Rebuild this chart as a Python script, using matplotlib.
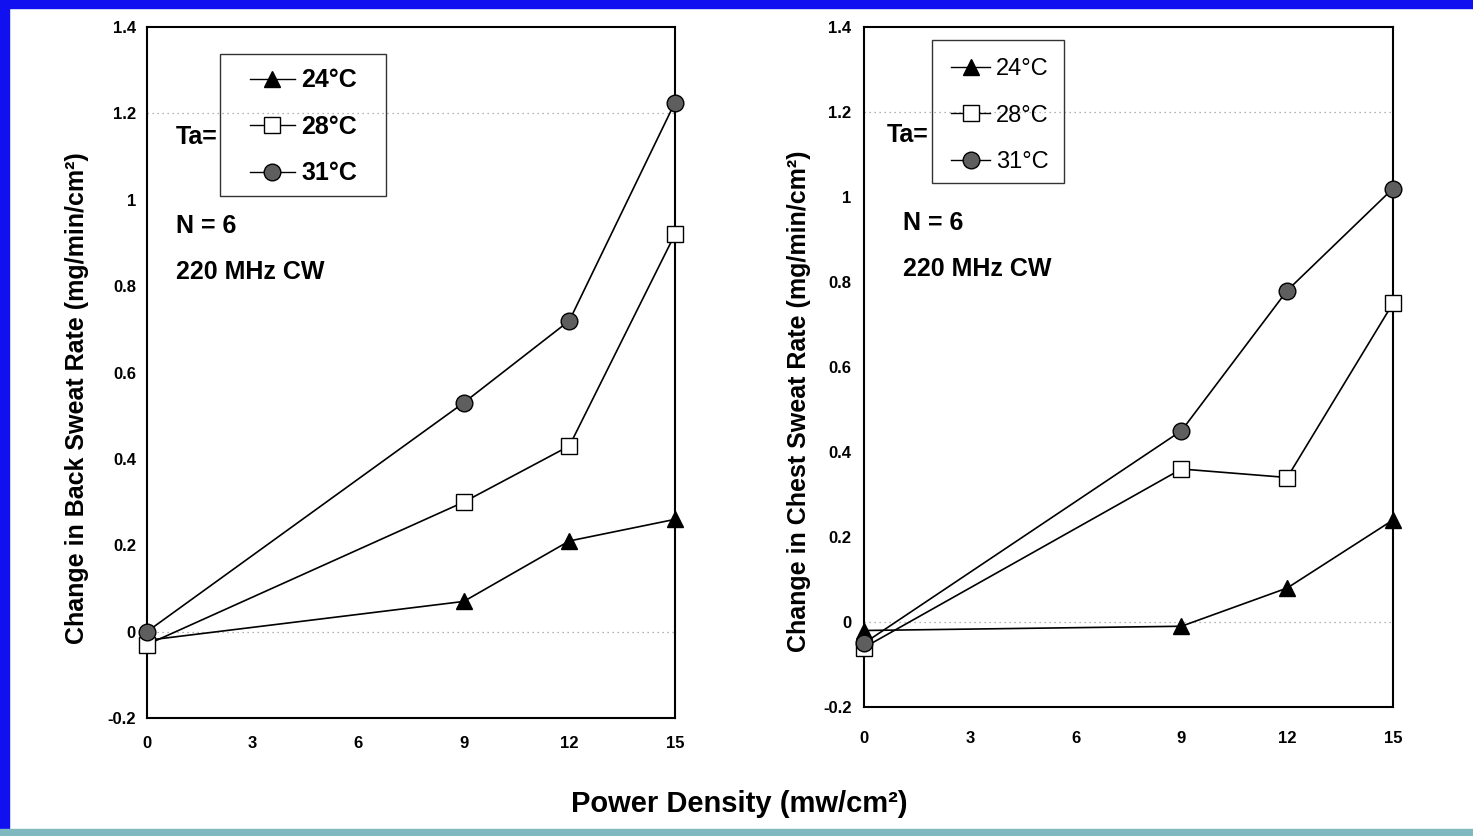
import matplotlib
matplotlib.use("Agg")
import matplotlib.pyplot as plt
import matplotlib.patches as mpatches
from matplotlib.lines import Line2D
from matplotlib import font_manager

plt.rcParams['font.family'] = ['Liberation Sans', 'DejaVu Sans']

# Data
power = [0, 9, 12, 15]
temps = ['24°C', '28°C', '31°C']

back_24 = [-0.02, 0.07, 0.21, 0.26]
back_28 = [-0.03, 0.30, 0.43, 0.92]
back_31 = [0.00, 0.53, 0.72, 1.225]

chest_24 = [-0.02, -0.01, 0.08, 0.24]
chest_28 = [-0.06, 0.36, 0.34, 0.75]
chest_31 = [-0.05, 0.45, 0.78, 1.02]

x_ticks = [0, 3, 6, 9, 12, 15]
y_ticks = [-0.2, 0, 0.2, 0.4, 0.6, 0.8, 1, 1.2, 1.4]
y_tick_labels = ['-0.2', '0', '0.2', '0.4', '0.6', '0.8', '1', '1.2', '1.4']

styles = [
    dict(marker='^', markersize=12, markerfacecolor='black', markeredgecolor='black'),
    dict(marker='s', markersize=12, markerfacecolor='white', markeredgecolor='black'),
    dict(marker='o', markersize=12, markerfacecolor='#5e5e5e', markeredgecolor='black'),
]

# condensed face for the right-hand panel, if available
installed = {f.name for f in font_manager.fontManager.ttflist}
narrow = ['Liberation Sans Narrow', 'Liberation Sans'] if 'Liberation Sans Narrow' in installed \
    else ['Liberation Sans']

fig = plt.figure(figsize=(14.73, 8.36), dpi=100)
fig.patch.set_facecolor('white')

# scanned-slide border
fig.patches.append(mpatches.Rectangle((0, 0), 0.006, 1, transform=fig.transFigure,
                                      color='#1010f0', zorder=0))
fig.patches.append(mpatches.Rectangle((0, 0.99), 1, 0.01, transform=fig.transFigure,
                                      color='#1010f0', zorder=0))
fig.patches.append(mpatches.Rectangle((0, 0), 1, 0.008, transform=fig.transFigure,
                                      color='#80b8c0', zorder=0))

ax1 = fig.add_axes([0.0998, 0.1411, 0.3584, 0.8266])
ax2 = fig.add_axes([0.5866, 0.1543, 0.3591, 0.8134])


def draw_panel(ax, series, ylabel, ylabel_y, ylabel_pad, box, leg_anchor, leg_font,
               leg_space, handle_len, ta_pos, note_x, note_y, tick_family, xpad, ypad):
    for ys, st in zip(series, styles):
        ax.plot(power, ys, color='black', linewidth=1.2, clip_on=False, zorder=3, **st)
    ax.axhline(1.2, color='#9a9a9a', linestyle=(0, (1, 3)), linewidth=0.9, zorder=1)
    ax.axhline(0, color='#9a9a9a', linestyle=(0, (1, 3)), linewidth=0.9, zorder=1)
    ax.set_xlim(0, 15)
    ax.set_ylim(-0.2, 1.4)
    ax.set_xticks(x_ticks)
    ax.set_yticks(y_ticks)
    ax.set_yticklabels(y_tick_labels)
    ax.tick_params(axis='both', length=0, labelsize=12)
    ax.tick_params(axis='x', pad=xpad)
    ax.tick_params(axis='y', pad=ypad)
    for lab in ax.get_xticklabels() + ax.get_yticklabels():
        lab.set_fontweight('bold')
        lab.set_family(tick_family)
    for sp in ax.spines.values():
        sp.set_linewidth(1.5)
        sp.set_color('black')
    ax.set_ylabel(ylabel, fontsize=18, fontweight='bold', labelpad=ylabel_pad, y=ylabel_y)

    # legend frame drawn separately so padding can match the original
    ax.add_patch(mpatches.Rectangle((box[0], box[1]), box[2], box[3], transform=ax.transAxes,
                                    fill=False, edgecolor='#333333', linewidth=1.0, zorder=4))
    handles = [Line2D([], [], color='black', linewidth=1.0, **st) for st in styles]
    ax.legend(handles, temps, loc='upper left', bbox_to_anchor=leg_anchor,
              borderaxespad=0, borderpad=0, frameon=False,
              handlelength=handle_len, handletextpad=0.25, labelspacing=leg_space,
              prop=leg_font)
    ax.text(ta_pos[0], ta_pos[1], 'Ta=', transform=ax.transAxes, fontsize=18,
            fontweight='bold', va='center', ha='left')
    ax.text(note_x, note_y[0], 'N = 6', transform=ax.transAxes, fontsize=18,
            fontweight='bold', va='center', ha='left')
    ax.text(note_x, note_y[1], '220 MHz CW', transform=ax.transAxes, fontsize=18,
            fontweight='bold', va='center', ha='left')


draw_panel(ax1, [back_24, back_28, back_31],
           'Change in Back Sweat Rate (mg/min/cm²)', 0.463, 13,
           (0.138, 0.755, 0.315, 0.206), (0.195, 0.940),
           dict(size=18, weight='bold'), 0.9, 1.8,
           (0.055, 0.841), 0.055, (0.712, 0.6455), ['Liberation Sans'], 13, 8)
draw_panel(ax2, [chest_24, chest_28, chest_31],
           'Change in Chest Sweat Rate (mg/min/cm²)', 0.45, 8.5,
           (0.1285, 0.771, 0.2495, 0.21), (0.1645, 0.954),
           dict(size=17, family=narrow), 1.03, 1.65,
           (0.042, 0.841), 0.074, (0.712, 0.644), narrow, 17, 9)

fig.text(0.5017, 0.038, 'Power Density (mw/cm²)', fontsize=21, fontweight='bold',
         ha='center', va='center')

fig.savefig('out.png', dpi=100)
